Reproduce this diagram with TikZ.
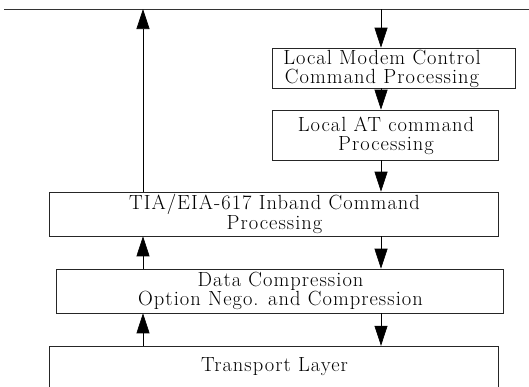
\documentclass[tikz,border=0pt]{standalone}
\usepackage{fontspec}
\setmainfont{Latin Modern Roman}[LetterSpace=5]
\usetikzlibrary{arrows.meta}
\begin{document}
\begin{tikzpicture}[x=1pt,y=-1pt,
  box/.style={draw=black!85, line width=0.6pt, inner sep=0pt, rectangle},
  txt/.style={align=center, inner sep=0pt, font=\fontsize{20.5}{18.5}\selectfont},
  arr/.style={line width=0.7pt, -{Triangle[length=20pt,width=13pt]}}]
\useasboundingbox (0,0) rectangle (529,386);
% top line
\coordinate (topL) at (4,9);
\coordinate (topR) at (529,9);
\draw[line width=0.8pt, black!80] (topL) -- (topR);
\coordinate (xL) at (143,0);
\coordinate (xR) at (381,0);
% boxes
\node[box, minimum width=243pt, minimum height=40pt] (b1) at (393.5,68) {};
\node[txt] (t1) at (382,69) {Local Modem Control\\Command Processing};
\node[box, minimum width=226pt, minimum height=50pt] (b2) at (385,135) {};
\node[txt] (t2) at (386,136) {Local AT command\\Processing};
\node[box, minimum width=449pt, minimum height=44pt] (tia) at (273.5,214) {};
\node[txt] (t3) at (274.5,214) {TIA/EIA-617 Inband Command\\Processing};
\node[box, minimum width=447pt, minimum height=44pt] (dc) at (279.5,291) {};
\node[txt] (t4) at (280.5,291) {Data Compression\\Option Nego. and Compression};
\node[inner sep=0pt, minimum width=449pt, minimum height=50pt] (tl) at (273.5,371) {};
\node[txt] (t5) at (274.5,367) {Transport Layer};
\draw[line width=0.6pt, black!85] (tl.south west) -- (tl.north west) -- (tl.north east) -- (tl.south east);
% right (downward) arrows
\draw[arr] (topL -| xR) -- (b1.north -| xR);
\draw[arr] (b1.south -| xR) -- (b2.north -| xR);
\draw[arr] (b2.south -| xR) -- (tia.north -| xR);
\draw[arr] (tia.south -| xR) -- (dc.north -| xR);
\draw[arr] (dc.south -| xR) -- (tl.north -| xR);
% left (upward) arrows
\draw[arr] (tl.north -| xL) -- (dc.south -| xL);
\draw[arr] (dc.north -| xL) -- (tia.south -| xL);
\draw[arr] (tia.north -| xL) -- (topL -| xL);
\end{tikzpicture}
\end{document}
